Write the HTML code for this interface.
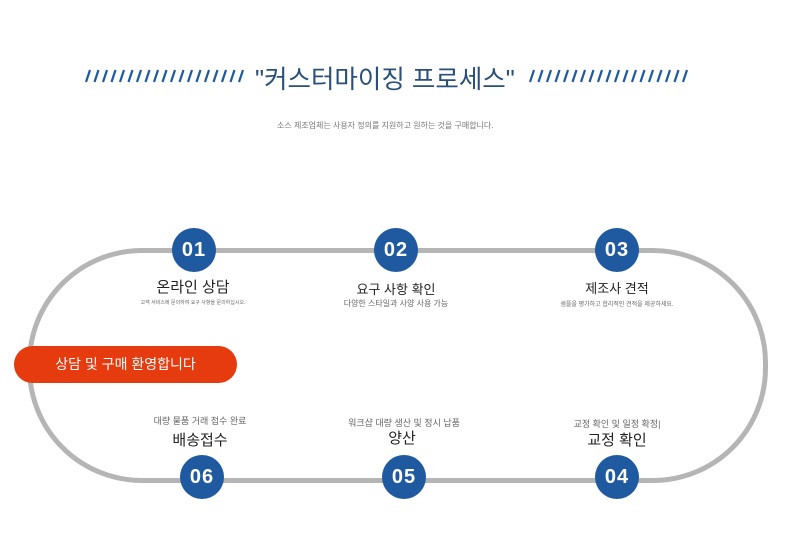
<!DOCTYPE html>
<html><head><meta charset="utf-8"><style>
body{margin:0;width:790px;height:558px;background:#fff;position:relative;overflow:hidden;font-family:"Liberation Sans","Noto Sans CJK KR",sans-serif}
.a{position:absolute;white-space:nowrap}
.c{position:absolute;width:44px;height:44px;border-radius:50%;background:#1f5aa0;color:#fff;font-weight:bold;font-size:20px;text-align:center;line-height:44px;letter-spacing:1px}
.t{position:absolute;transform:translateX(-50%);font-size:14px;color:#222;white-space:nowrap}
.s{position:absolute;transform:translateX(-50%);font-size:9px;color:#666;white-space:nowrap}
</style></head><body>
<svg style="position:absolute;left:0;top:0" width="790" height="120">
<g stroke="#1f5aa0" stroke-width="2.2">
<path d="M86 82l4-12M94.5 82l4-12M103 82l4-12M111.5 82l4-12M120 82l4-12M128.5 82l4-12M137 82l4-12M145.5 82l4-12M154 82l4-12M162.5 82l4-12M171 82l4-12M179.5 82l4-12M188 82l4-12M196.5 82l4-12M205 82l4-12M213.5 82l4-12M222 82l4-12M230.5 82l4-12M239 82l4-12"/>
<path d="M530 82l4-12M538.5 82l4-12M547 82l4-12M555.5 82l4-12M564 82l4-12M572.5 82l4-12M581 82l4-12M589.5 82l4-12M598 82l4-12M606.5 82l4-12M615 82l4-12M623.5 82l4-12M632 82l4-12M640.5 82l4-12M649 82l4-12M657.5 82l4-12M666 82l4-12M674.5 82l4-12M683 82l4-12"/>
</g></svg>
<div class="a" style="left:255px;top:59px;font-size:25.5px;color:#2a4f7a">"커스터마이징 프로세스"</div>
<div class="a" style="left:277px;top:120px;font-size:8px;color:#777">소스 제조업체는 사용자 정의를 지원하고 원하는 것을 구매합니다.</div>
<div style="position:absolute;left:27px;top:248px;width:731px;height:225px;border:5px solid #b5b5b5;border-radius:115px"></div>
<div class="c" style="left:172px;top:228px">01</div>
<div class="c" style="left:374px;top:228px">02</div>
<div class="c" style="left:595px;top:228px">03</div>
<div class="c" style="left:180px;top:455px">06</div>
<div class="c" style="left:382px;top:455px">05</div>
<div class="c" style="left:595px;top:455px">04</div>
<div class="t" style="left:193px;top:276px;font-size:15px">온라인 상담</div>
<div class="t" style="left:396px;top:279px;font-size:13px">요구 사항 확인</div>
<div class="t" style="left:617px;top:278px;font-size:13px">제조사 견적</div>
<div class="s" style="left:193px;top:299px;font-size:5px">고객 서비스에 문의하여 요구 사항을 문의하십시오.</div>
<div class="s" style="left:396px;top:298px;font-size:8px">다양한 스타일과 사양 사용 가능</div>
<div class="s" style="left:617px;top:299px;font-size:6px">샘플을 평가하고 합리적인 견적을 제공하세요.</div>
<div class="s" style="left:200px;top:414px;font-size:9px">대량 물품 거래 접수 완료</div>
<div class="s" style="left:404px;top:416px;font-size:9px">워크샵 대량 생산 및 정시 납품</div>
<div class="s" style="left:617px;top:417px;font-size:9px">교정 확인 및 일정 확정|</div>
<div class="t" style="left:200px;top:429px;font-size:15px">배송접수</div>
<div class="t" style="left:402px;top:427px;font-size:15px">양산</div>
<div class="t" style="left:617px;top:429px;font-size:15px">교정 확인</div>
<div class="a" style="left:14px;top:346px;width:223px;height:37px;border-radius:19px;background:#e63a0f;color:#fff;font-size:14px;line-height:37px;text-align:center">상담 및 구매 환영합니다</div>
</body></html>
